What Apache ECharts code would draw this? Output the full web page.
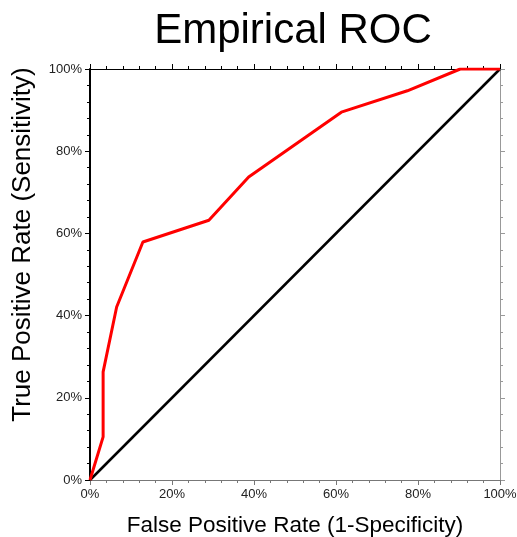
<!DOCTYPE html>
<html><head><meta charset="utf-8">
<script src="https://cdn.jsdelivr.net/npm/echarts@6/dist/echarts.min.js"></script>
<style>html,body{margin:0;padding:0;background:#fff}#c{width:517px;height:537px}</style>
</head><body><div id="c"></div>
<script>
var fpr = [0, 3.2, 3.2, 6.5, 12.9, 29.0, 38.7, 61.3, 77.4, 90.3, 100];
var tpr = [0, 10.5, 26.3, 42.1, 57.9, 63.2, 73.7, 89.5, 94.7, 100, 100];
var refX = [0, 100];
var refY = [0, 100];
var titleText = 'Empirical ROC';
var xName = 'False Positive Rate (1-Specificity)';
var yName = 'True Positive Rate (Sensitivity)';

var font = 'Liberation Sans, Arial, sans-serif';
function zip(a, b) { return a.map(function (v, i) { return [v, b[i]]; }); }
function axisBase(pos, color, w, showLabel) {
  return {
    type: 'value', position: pos, min: 0, max: 100, interval: 20,
    axisLine: { show: true, onZero: false, lineStyle: { color: color, width: w } },
    axisTick: { show: true, length: 5, lineStyle: { color: color, width: 1 } },
    minorTick: { show: true, splitNumber: 5, length: 3, lineStyle: { color: color, width: 1 } },
    splitLine: { show: false },
    axisLabel: { show: showLabel, formatter: '{value}%', color: '#222', fontSize: 13, fontFamily: font, margin: 8 }
  };
}
var chart = echarts.init(document.getElementById('c'), null, { renderer: 'canvas' });
var xb = axisBase('bottom', '#777', 1, true);
xb.name = xName; xb.nameLocation = 'middle'; xb.nameGap = 34;
xb.nameTextStyle = { fontSize: 22.5, color: '#000', fontFamily: font };
var xt = axisBase('top', '#000', 1, false);
var yl = axisBase('left', '#000', 2, true);
yl.name = yName; yl.nameLocation = 'middle'; yl.nameGap = 54;
yl.nameTextStyle = { fontSize: 26, color: '#000', fontFamily: font, padding: [0, 0, 0, 60] };
var yr = axisBase('right', '#999', 1, false);
chart.setOption({
  animation: false,
  backgroundColor: '#fff',
  title: { text: titleText, left: 288, textAlign: 'center', top: 5,
    textStyle: { fontSize: 42, fontWeight: 'normal', color: '#000', fontFamily: font } },
  grid: { left: 90, right: 17, top: 69, bottom: 57, containLabel: false, outerBoundsMode: 'none' },
  xAxis: [xb, xt],
  yAxis: [yl, yr],
  series: [
    { type: 'line', data: zip(refX, refY), symbol: 'none', lineStyle: { color: '#000', width: 2.5 }, z: 2 },
    { type: 'line', data: zip(fpr, tpr), symbol: 'none', lineStyle: { color: '#ff0000', width: 3 }, z: 3 }
  ]
});
</script></body></html>
